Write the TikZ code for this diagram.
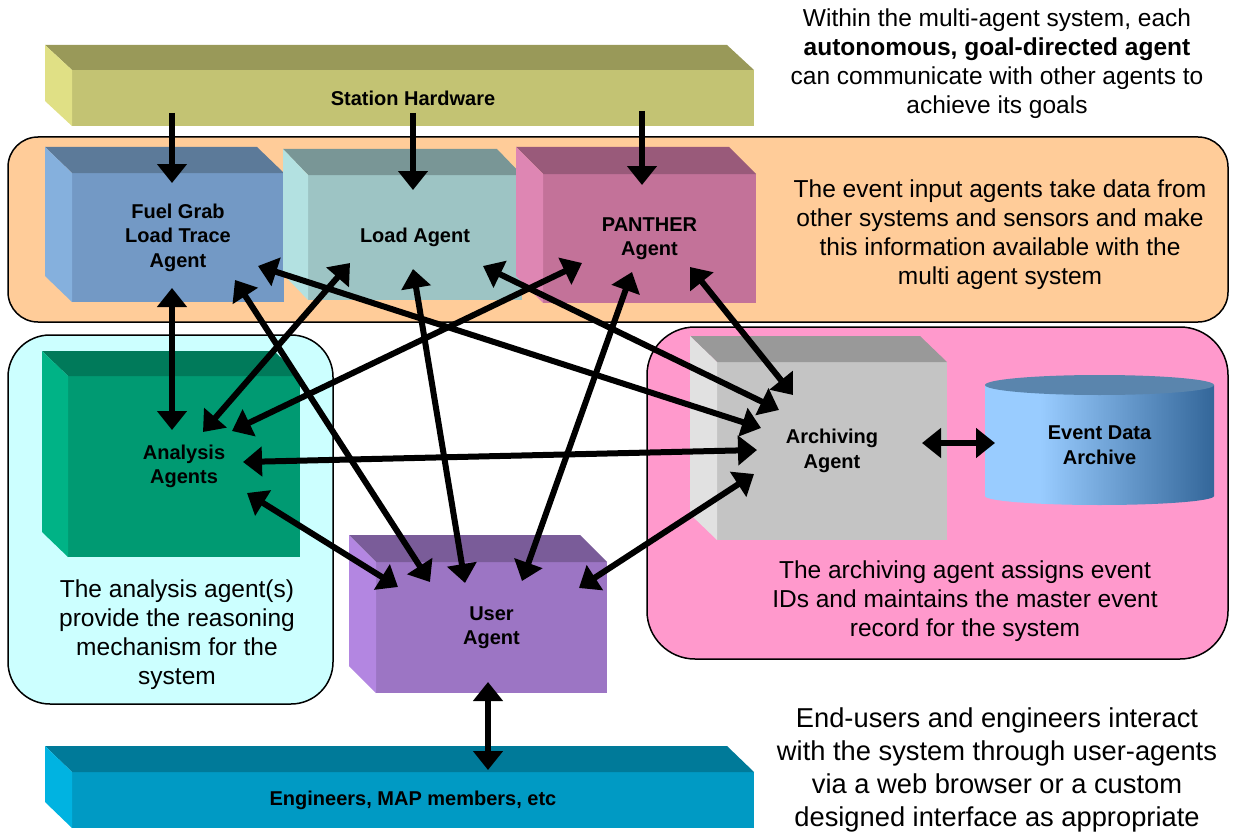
\documentclass[tikz,border=0pt]{standalone}
\usepackage{fontspec}
\setmainfont{Liberation Sans}
\usetikzlibrary{arrows.meta}
\definecolor{cylA}{HTML}{99CCFF}
\definecolor{cylB}{HTML}{336699}
\definecolor{cyltop}{HTML}{5A85AD}
\pgfdeclarehorizontalshading{cylshade}{100bp}{color(0bp)=(cylA); color(37bp)=(cylA); color(75bp)=(cylB); color(100bp)=(cylB)}
\definecolor{shF}{HTML}{C3C373}\definecolor{shT}{HTML}{999959}\definecolor{shL}{HTML}{E0E085}
\definecolor{fgF}{HTML}{7399C5}\definecolor{fgT}{HTML}{5C7A99}\definecolor{fgL}{HTML}{85B0DD}
\definecolor{ldF}{HTML}{9DC4C4}\definecolor{ldT}{HTML}{799696}\definecolor{ldL}{HTML}{B3E1E1}
\definecolor{paF}{HTML}{C37299}\definecolor{paT}{HTML}{995A7A}\definecolor{paL}{HTML}{DE86B3}
\definecolor{anF}{HTML}{009A72}\definecolor{anT}{HTML}{007A5A}\definecolor{anL}{HTML}{00B386}
\definecolor{arF}{HTML}{C4C4C4}\definecolor{arT}{HTML}{999999}\definecolor{arL}{HTML}{E1E1E1}
\definecolor{usF}{HTML}{9C75C4}\definecolor{usT}{HTML}{7A5C99}\definecolor{usL}{HTML}{B386E1}
\definecolor{enF}{HTML}{009AC4}\definecolor{enT}{HTML}{007A99}\definecolor{enL}{HTML}{00B3E1}
\definecolor{bgOrange}{HTML}{FFCC99}
\definecolor{bgCyan}{HTML}{CCFFFF}
\definecolor{bgPink}{HTML}{FF99CC}
\newcommand{\boxfaces}[5]{%
  \fill[#2] (#1.north west) -- ++(-#4,-#5) -- ([shift={(-#4,-#5)}]#1.north east) -- (#1.north east) -- cycle;
  \fill[#3] (#1.north west) -- ++(-#4,-#5) -- ([shift={(-#4,-#5)}]#1.south west) -- (#1.south west) -- cycle;
}
\tikzset{
  agentbox/.style={rectangle, inner sep=0pt, outer sep=0pt, align=center,
    font=\bfseries\fontsize{20}{24.5}\selectfont},
  bgpanel/.style={draw=black, line width=1.5pt},
  note/.style={align=center, inner sep=0pt, font=\fontsize{24.5}{29}\selectfont},
  bignote/.style={align=center, inner sep=0pt, font=\fontsize{27.3}{33}\selectfont},
  arr/.style={line width=6pt, -{Triangle[length=19pt,width=29pt]}},
  darr/.style={line width=6pt, {Triangle[length=19pt,width=29pt]}-{Triangle[length=19pt,width=29pt]}}
}
\begin{document}
\begin{tikzpicture}[x=1pt,y=-1pt]
\useasboundingbox (0,0) rectangle (1234,840);
% background panels
\draw[bgpanel, fill=bgOrange, rounded corners=30pt] (8,137) rectangle (1228,322);
\draw[bgpanel, fill=bgCyan, rounded corners=42pt] (8,335) rectangle (333,704);
\draw[bgpanel, fill=bgPink, rounded corners=48pt] (647,327) rectangle (1228,659);
% station hardware
\node[agentbox, fill=shF, minimum width=682pt, minimum height=56pt] (sh) at (413,98) {Station Hardware};
\boxfaces{sh}{shT}{shL}{27}{25}
% event input agents
\node[agentbox, fill=fgF, minimum width=212pt, minimum height=129pt] (fuel) at (178,237.5) {Fuel Grab\\Load Trace\\Agent};
\boxfaces{fuel}{fgT}{fgL}{27}{26}
\node[agentbox, fill=ldF, minimum width=214pt, minimum height=125pt] (load) at (415,237.5) {Load Agent};
\boxfaces{load}{ldT}{ldL}{25}{26}
\node[agentbox, fill=paF, minimum width=213pt, minimum height=129pt] (panther) at (649.5,238.5) {PANTHER\\Agent};
\boxfaces{panther}{paT}{paL}{27}{27}
% analysis
\node[agentbox, fill=anF, minimum width=232pt, minimum height=181pt] (analysis) at (184,466.5) {Analysis\\Agents};
\boxfaces{analysis}{anT}{anL}{26}{25}
% archiving
\node[agentbox, fill=arF, minimum width=230pt, minimum height=178pt] (arch) at (832,451) {Archiving\\Agent};
\boxfaces{arch}{arT}{arL}{27}{26}
% event data archive cylinder
\shade[shading=cylshade] (985,385) -- (985,496) arc[start angle=180, end angle=360, x radius=114.5pt, y radius=9pt] -- (1214,385) -- cycle;
\fill[cyltop] (1099.5,385) ellipse[x radius=114.5pt, y radius=10pt];
\node[agentbox, minimum width=229pt, minimum height=120pt] (eda) at (1099.5,445) {Event Data\\Archive};
% user
\node[agentbox, fill=usF, minimum width=231pt, minimum height=131pt] (user) at (491.5,627.5) {User\\Agent};
\boxfaces{user}{usT}{usL}{27}{27}
% engineers
\node[agentbox, fill=enF, minimum width=682pt, minimum height=56pt] (eng) at (413,800) {Engineers, MAP members, etc};
\boxfaces{eng}{enT}{enL}{27}{26}
% connectors
\draw[arr] ([shift={(-241,15)}]sh.center) -- ([shift={(-6,-54.5)}]fuel.center);
\draw[arr] ([shift={(0,15)}]sh.center) -- ([shift={(-2,-47.5)}]load.center);
\draw[arr] ([shift={(229,13)}]sh.center) -- ([shift={(-7.5,-53.5)}]panther.center);
\draw[darr] ([shift={(-6,50.5)}]fuel.center) -- ([shift={(-12,-36.5)}]analysis.center);
\draw[darr] ([shift={(-65,25.5)}]load.center) -- ([shift={(19,-34.5)}]analysis.center);
\draw[darr] ([shift={(-67.5,24.5)}]panther.center) -- ([shift={(48,-35.5)}]analysis.center);
\draw[darr] ([shift={(-75,-1)}]arch.center) -- ([shift={(59,-4.5)}]analysis.center);
\draw[darr] ([shift={(-93.5,-40.5)}]user.center) -- ([shift={(63,26.5)}]analysis.center);
\draw[darr] ([shift={(57,42.5)}]fuel.center) -- ([shift={(-61.5,-45.5)}]user.center);
\draw[darr] ([shift={(-2,31.5)}]load.center) -- ([shift={(-26.5,-44.5)}]user.center);
\draw[darr] ([shift={(-17.5,33.5)}]panther.center) -- ([shift={(30.5,-46.5)}]user.center);
\draw[darr] ([shift={(-78,23)}]arch.center) -- ([shift={(87.5,-39.5)}]user.center);
\draw[darr] ([shift={(80,28.5)}]fuel.center) -- ([shift={(-71,-23)}]arch.center);
\draw[darr] ([shift={(68,28.5)}]load.center) -- ([shift={(-53,-41)}]arch.center);
\draw[darr] ([shift={(40.5,28.5)}]panther.center) -- ([shift={(-39,-56)}]arch.center);
\draw[darr] ([shift={(90,-8)}]arch.center) -- ([shift={(-104.5,-2)}]eda.center);
\draw[darr] ([shift={(-3.5,54.5)}]user.center) -- ([shift={(75,-30)}]eng.center);
% notes
\node[note] (t-top) at (997,63.5) {Within the multi-agent system, each\\\textbf{autonomous, goal-directed agent}\\can communicate with other agents to\\achieve its goals};
\node[note] (t-input) at (1000,235) {The event input agents take data from\\other systems and sensors and make\\this information available with the\\multi agent system};
\node[note] (t-analysis) at (177,634.5) {The analysis agent(s)\\provide the reasoning\\mechanism for the\\system};
\node[note] (t-arch) at (965,601) {The archiving agent assigns event\\IDs and maintains the master event\\record for the system};
\node[bignote] (t-user) at (997,770) {End-users and engineers interact\\with the system through user-agents\\via a web browser or a custom\\designed interface as appropriate};
\end{tikzpicture}
\end{document}
